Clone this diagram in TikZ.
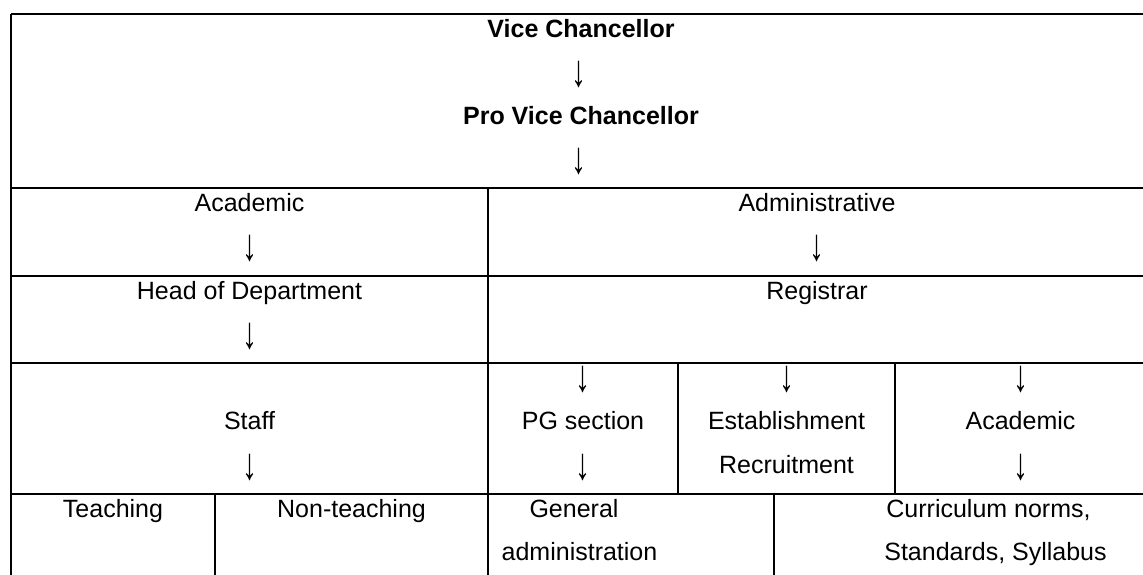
\documentclass[tikz,border=0pt]{standalone}
\usepackage{fontspec}
\usepackage{graphicx}
\setmainfont{Liberation Sans}
\begin{document}
\begin{tikzpicture}[x=0.5pt,y=-0.5pt,
  grid/.style={line width=0.8pt,black},
  txt/.style={inner sep=0pt,anchor=base,font=\fontsize{12.5pt}{15pt}\selectfont},
  btxt/.style={txt,font=\fontsize{12.5pt}{15pt}\selectfont\bfseries},
  arr/.style={inner sep=0pt,anchor=center,font=\fontsize{12.5pt}{15pt}\selectfont,yshift=3pt}]
\newcommand{\dnarrow}{\scalebox{1.2}[1.8]{↓}}
\useasboundingbox (0,0) rectangle (1143,574);
\clip (0,0) rectangle (1143,574);
% grid lines
\draw[grid] (11,14) -- (1150,14);
\draw[grid] (11,14) -- (11,580);
\foreach \yy in {188,276,363,494} \draw[grid] (11,\yy) -- (1150,\yy);
\draw[grid] (488,188) -- (488,580);
\draw[grid] (215,494) -- (215,580);
\draw[grid] (678,363) -- (678,494);
\draw[grid] (895,363) -- (895,494);
\draw[grid] (774,494) -- (774,580);
% row 1
\node[btxt] (vc) at (581,37) {Vice Chancellor};
\node[arr] (a1) at (579,80.6) {\dnarrow};
\node[btxt] (pvc) at (581,124.2) {Pro Vice Chancellor};
\node[arr] (a2) at (579,167.8) {\dnarrow};
% row 2
\node[txt] (acad) at (249.5,211) {Academic};
\node[arr] (a3) at (249.5,254.6) {\dnarrow};
\node[txt] (admin) at (817,211) {Administrative};
\node[arr] (a4) at (817,254.6) {\dnarrow};
% row 3
\node[txt] (hod) at (249.5,299) {Head of Department};
\node[arr] (a5) at (249.5,342.6) {\dnarrow};
\node[txt] (reg) at (817,299) {Registrar};
% row 4
\node[txt] (staff) at (249.5,429.6) {Staff};
\node[arr] (a6) at (249.5,473.2) {\dnarrow};
\node[arr] (a7) at (583,386) {\dnarrow};
\node[txt] (pg) at (583,429.6) {PG section};
\node[arr] (a8) at (583,473.2) {\dnarrow};
\node[arr] (a9) at (786.5,386) {\dnarrow};
\node[txt] (est) at (786.5,429.6) {Establishment};
\node[txt] (rec) at (786.5,473.2) {Recruitment};
\node[arr] (a10) at (1020.5,386) {\dnarrow};
\node[txt] (acad2) at (1020.5,429.6) {Academic};
\node[arr] (a11) at (1020.5,473.2) {\dnarrow};
% row 5
\node[txt] (teach) at (113,517) {Teaching};
\node[txt] (nonteach) at (351.5,517) {Non-teaching};
\node[txt] (gen) at (574,517) {General};
\node[txt] (genadm) at (579.5,560.6) {administration};
\node[txt] (curr) at (988.5,517) {Curriculum norms,};
\node[txt] (stand) at (995.5,560.6) {Standards, Syllabus};
\end{tikzpicture}
\end{document}
